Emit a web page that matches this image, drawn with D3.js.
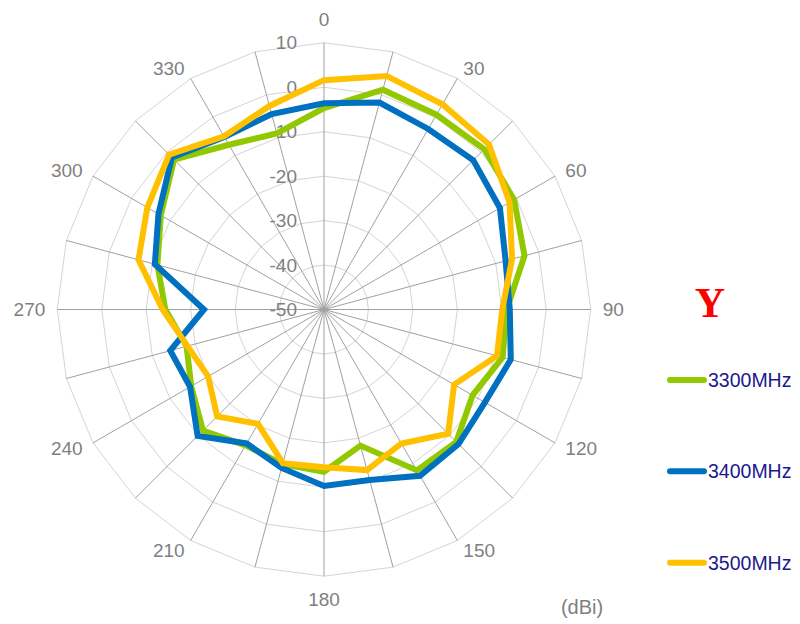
<!DOCTYPE html>
<html>
<head>
<meta charset="utf-8">
<script src="https://cdn.jsdelivr.net/npm/d3@7"></script>
<style>
  html, body { margin: 0; padding: 0; background: #ffffff; }
  svg { display: block; font-family: "Liberation Sans", Arial, sans-serif; }
</style>
</head>
<body>
<svg id="chart" width="800" height="624"></svg>
<script>
// ---- data ----
const angles = d3.range(0, 360, 15);                 // degrees, clockwise from top
const angleLabels = ["0","30","60","90","120","150","180","210","240","270","300","330"];
const radialTicks = [-50, -40, -30, -20, -10, 0, 10];
const seriesNames = ["3300MHz", "3400MHz", "3500MHz"];
const seriesColors = ["#92C800", "#0070C0", "#FFC000"];
const s3300 = [-4.7, 1.2, 0.6, 1.0, -0.6, -3.3, -8.9, -8.4, -11.4, -7.9, -8.2, -18.3,
               -13.5, -14.0, -14.7, -11.5, -15.5, -18.0, -14.3, -11.2, -7.6, -2.3, -7.2, -9.0];
const s3400 = [-3.6, -1.8, -3.1, -2.5, -4.3, -7.7, -8.2, -6.5, -8.2, -7.2, -6.8, -10.3,
               -10.3, -13.1, -15.2, -9.8, -15.2, -14.2, -23.0, -10.6, -7.0, -1.6, -5.2, -4.5];
const s3500 = [1.6, 4.4, 3.3, 2.5, -1.8, -6.2, -9.9, -9.7, -16.2, -10.5, -15.2, -12.6,
               -14.5, -14.2, -20.3, -16.0, -19.9, -18.2, -13.7, -6.8, -4.1, -0.7, -5.0, -2.6];
const seriesValues = [s3300, s3400, s3500];
const unitLabel = "(dBi)";
const legendTitle = "Y";

// ---- layout ----
const svg = d3.select("#chart");
const cx = 324, cy = 309.5, R = 266.7;
const r = d3.scaleLinear().domain([-50, 10]).range([0, R]);
const a = d3.scaleLinear().domain([0, 360]).range([0, 2 * Math.PI]);
const pt = (deg, v) => [cx + Math.sin(a(deg)) * r(v), cy - Math.cos(a(deg)) * r(v)];

const g = svg.append("g");

// rings (polygons)
radialTicks.slice(1).forEach(t => {
  g.append("polygon")
    .attr("points", angles.map(d => pt(d, t).join(",")).join(" "))
    .attr("fill", "none").attr("stroke", "#d4d4d4").attr("stroke-width", 1);
});
// spokes
angles.forEach(d => {
  const [x, y] = pt(d, 10);
  g.append("line").attr("x1", cx).attr("y1", cy).attr("x2", x).attr("y2", y)
    .attr("stroke", "#a0a0a0").attr("stroke-width", 1);
});

// radial tick labels
radialTicks.forEach(t => {
  g.append("text").attr("x", cx - 27).attr("y", cy - r(t))
    .attr("text-anchor", "end").attr("dominant-baseline", "central")
    .attr("font-size", 19).attr("fill", "#7f7f7f").text(t);
});

// angle labels
angleLabels.forEach(lbl => {
  const deg = +lbl;
  const s = Math.sin(a(deg)), c = Math.cos(a(deg));
  const [ex, ey] = pt(deg, 10);
  let x = ex + s * 12, y = ey - c * 12, anchor = "middle";
  if (Math.abs(s) < 1e-6) { y += (c > 0 ? -11 : 11); }
  else anchor = s > 0 ? "start" : "end";
  g.append("text").attr("x", x).attr("y", y)
    .attr("text-anchor", anchor).attr("dominant-baseline", "central")
    .attr("font-size", 19).attr("fill", "#7f7f7f").text(lbl);
});

// series
const line = d3.lineRadial()
  .angle((d, i) => a(angles[i]))
  .radius(d => r(d))
  .curve(d3.curveLinearClosed);
seriesValues.forEach((vals, k) => {
  g.append("path")
    .attr("transform", `translate(${cx},${cy})`)
    .attr("d", line(vals))
    .attr("fill", "none").attr("stroke", seriesColors[k])
    .attr("stroke-width", 6).attr("stroke-linejoin", "miter");
});

// unit label
svg.append("text").attr("x", 582).attr("y", 607)
  .attr("text-anchor", "middle").attr("dominant-baseline", "central")
  .attr("font-size", 20).attr("fill", "#7f7f7f").text(unitLabel);

// legend
svg.append("text")
  .attr("x", 710).attr("y", 317)
  .attr("text-anchor", "middle")
  .attr("font-family", "'Liberation Serif', 'Times New Roman', serif")
  .attr("font-weight", "bold")
  .attr("font-size", 42).attr("fill", "#ff0000").text(legendTitle);

const ly = d3.scalePoint().domain(seriesNames).range([380, 562.7]);
seriesNames.forEach((n, k) => {
  const y = ly(n);
  svg.append("line").attr("x1", 670).attr("x2", 704).attr("y1", y).attr("y2", y)
    .attr("stroke", seriesColors[k]).attr("stroke-width", 6).attr("stroke-linecap", "round");
  svg.append("text").attr("x", 708).attr("y", y)
    .attr("dominant-baseline", "central").attr("font-size", 19.5)
    .attr("fill", "#1a1a8c").text(n);
});
</script>
</body>
</html>
